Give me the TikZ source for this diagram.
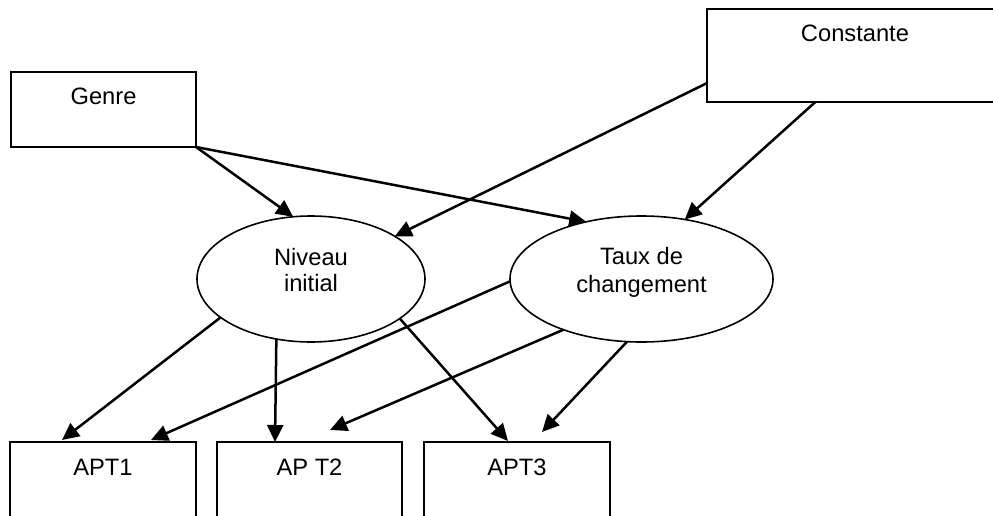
\documentclass[tikz,border=0pt]{standalone}
\usepackage{fontspec}
\setmainfont{Liberation Sans}
\usetikzlibrary{arrows.meta,shapes.geometric}
\begin{document}
\begin{tikzpicture}[x=1pt,y=-1pt,
  box/.style={draw, line width=2pt, rectangle, inner sep=0pt, outer sep=0pt},
  latent/.style={draw, line width=1.6pt, ellipse, inner sep=0pt, outer sep=0pt, minimum height=126pt},
  txt/.style={anchor=base, inner sep=0pt, font=\fontsize{23.7}{28}\selectfont},
  link/.style={line width=2.5pt, -{Triangle[length=17pt,width=16pt]}}]
\useasboundingbox (0,0) rectangle (993,516);
\clip (0,0) rectangle (993,516);

% observed covariates
\node[box, minimum width=185pt, minimum height=75pt] (g) at (103.5,109.5) {};
\node[box, minimum width=313pt, minimum height=93pt] (c) at (863.5,55.5) {};
\node[txt] (gt) at ([yshift=-33pt]g.north) {Genre};
\node[txt] (ct) at ([xshift=-8.5pt,yshift=-33pt]c.north) {Constante};

% latent growth factors
\node[latent, minimum width=228pt] (ni) at (311,279) {};
\node[latent, minimum width=263pt] (tc) at (641.5,279) {};
\node[txt] (ni1) at ([yshift=14pt]ni.center) {Niveau};
\node[txt] (ni2) at ([yshift=-12pt]ni.center) {initial};
\node[txt] (tc1) at ([yshift=15pt]tc.center) {Taux de};
\node[txt] (tc2) at ([yshift=-13pt]tc.center) {changement};

% repeated measures
\node[box, minimum width=186pt, minimum height=100pt] (a1) at (103,492) {};
\node[box, minimum width=185pt, minimum height=100pt] (a2) at (309.5,492) {};
\node[box, minimum width=186pt, minimum height=100pt] (a3) at (517,492) {};
\node[txt] (a1t) at ([yshift=-33pt]a1.north) {APT1};
\node[txt] (a2t) at ([yshift=-33pt]a2.north) {AP T2};
\node[txt] (a3t) at ([yshift=-33pt]a3.north) {APT3};

% regressions on the growth factors
\draw[link] (g.south east) -- (ni.106.8);
\draw[link] (g.south east) -- (tc.134.3);
\draw[link] (c.190.3) -- (ni.27.3);
\draw[link] (c.224.4) -- (tc.54.6);

% factor loadings
\draw[link] (ni.203.2) -- ([xshift=-41pt,yshift=2pt]a1.north);
\draw[link] (tc.181.7) -- ([xshift=48pt,yshift=2pt]a1.north);
\draw[link] (ni.240.3) -- ([xshift=-34.5pt]a2.north);
\draw[link] (tc.213.7) -- ([xshift=20.5pt,yshift=12pt]a2.north);
\draw[link] (ni.336.8) -- ([xshift=-9pt,yshift=1pt]a3.north);
\draw[link] (tc.257.2) -- ([xshift=25pt,yshift=10pt]a3.north);
\end{tikzpicture}
\end{document}
